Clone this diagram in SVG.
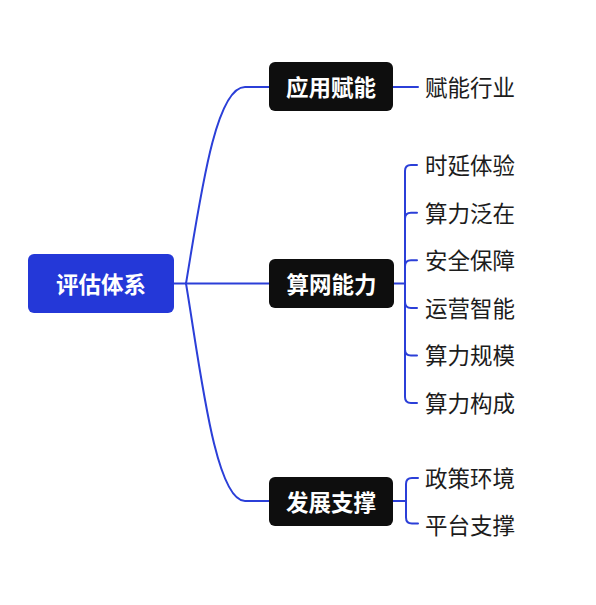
<svg xmlns="http://www.w3.org/2000/svg" width="596" height="605" viewBox="0 0 596 605">
<style>
.c{fill:none;stroke:#2b3fd8;stroke-width:2;stroke-linecap:round}
.n{fill:#0e0e0e}
.r{fill:#2438d8}
.t{font-family:"Noto Sans CJK SC","Noto Sans",sans-serif;font-weight:700;font-size:22.5px;fill:#fff;text-anchor:middle;dominant-baseline:central}
.l{font-family:"Noto Sans CJK SC","Noto Sans",sans-serif;font-size:22.5px;fill:#1c1c1c;dominant-baseline:central}
</style>
<rect width="596" height="605" fill="#fff"/>
<g id="connectors">
<path class="c" d="M174,283.5 H186"/>
<path class="c" d="M186,283.5 C200,200 215,87 245,87 H269"/>
<path class="c" d="M186,283.5 H269"/>
<path class="c" d="M186,283.5 C200,367 215,501 245,501 H269"/>
<path class="c" d="M393,87 H418"/>
<path class="c" d="M394,283.5 H405"/>
<path class="c" d="M405,283.5 V171 Q405,165 411,165 H417"/>
<path class="c" d="M405,283.5 V218.7 Q405,212.7 411,212.7 H417"/>
<path class="c" d="M405,283.5 V266.3 Q405,260.3 411,260.3 H417"/>
<path class="c" d="M405,283.5 V301.9 Q405,307.9 411,307.9 H417"/>
<path class="c" d="M405,283.5 V349.5 Q405,355.5 411,355.5 H417"/>
<path class="c" d="M405,283.5 V397 Q405,403 411,403 H417"/>
<path class="c" d="M393,501 H406"/>
<path class="c" d="M406,501 V484 Q406,478 412,478 H418"/>
<path class="c" d="M406,501 V517.5 Q406,523.5 412,523.5 H418"/>
</g>
<g id="root"><rect class="r" x="28" y="254" width="146" height="59" rx="6"/><text class="t" x="101" y="283">评估体系</text></g>
<g id="n1"><rect class="n" x="269" y="62" width="124" height="49" rx="6"/><text class="t" x="331" y="86">应用赋能</text></g>
<g id="n2"><rect class="n" x="269" y="259" width="125" height="49" rx="6"/><text class="t" x="331.5" y="283">算网能力</text></g>
<g id="n3"><rect class="n" x="269" y="477" width="124" height="49" rx="6"/><text class="t" x="331" y="501">发展支撑</text></g>
<g id="c1"><text class="l" x="425" y="86">赋能行业</text></g>
<g id="c2"><text class="l" x="425" y="164">时延体验</text></g>
<g id="c3"><text class="l" x="425" y="211.5">算力泛在</text></g>
<g id="c4"><text class="l" x="425" y="259">安全保障</text></g>
<g id="c5"><text class="l" x="425" y="306.5">运营智能</text></g>
<g id="c6"><text class="l" x="425" y="354">算力规模</text></g>
<g id="c7"><text class="l" x="425" y="402">算力构成</text></g>
<g id="c8"><text class="l" x="425" y="477">政策环境</text></g>
<g id="c9"><text class="l" x="425" y="524">平台支撑</text></g>
</svg>
